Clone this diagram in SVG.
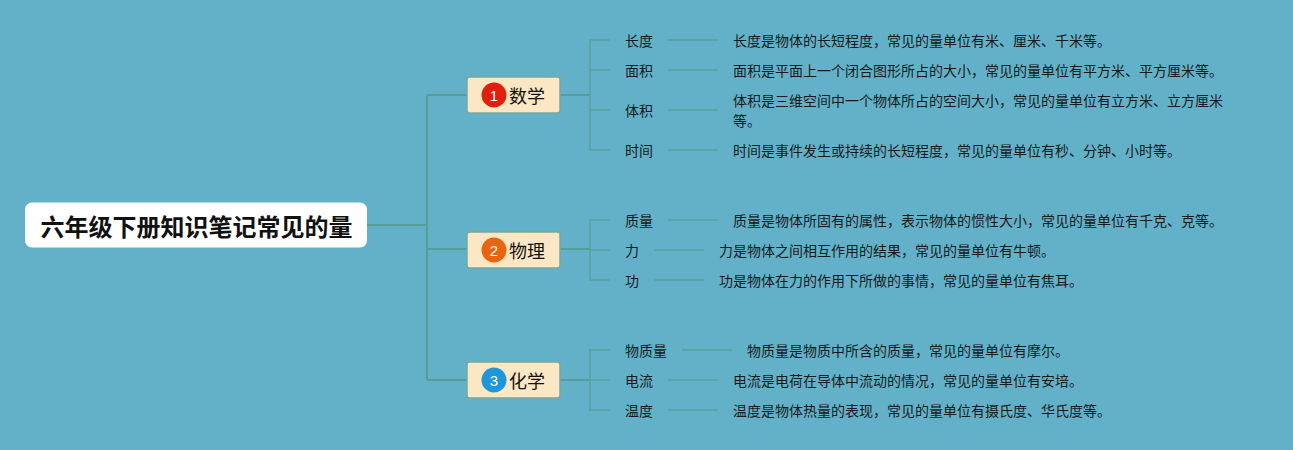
<svg xmlns="http://www.w3.org/2000/svg" width="1293" height="450" viewBox="0 0 1293 450">
<style>
text{font-family:"Noto Sans CJK SC","Noto Sans CJK JP",sans-serif}
.c{fill:none;stroke:#559d95;stroke-width:2}
.l{fill:none;stroke:#5aa39e;stroke-width:2;opacity:.8}
.box{fill:#fbe7c3;stroke:#7aa89a;stroke-width:1.5}
.bt{font-size:18px;fill:#111}
.nt{font-size:15px;fill:#fff;text-anchor:middle;font-family:"Liberation Sans",sans-serif}
.s{font-size:14px;fill:#1a1a1a}
.d{font-size:14px;fill:#1a1a1a}
</style>
<rect width="1293" height="450" fill="#62b1c8"/>
<g id="connectors">
<path class="c" d="M367 225H427M427 95V380M427 95H467M427 249H467M427 380H467"/>
<path class="c" d="M560 95H590M560 249H590M560 380H590"/>
<path class="l" d="M610 40H590V150H610M590 70H610M590 110H610"/>
<path class="l" d="M610 220H590V280H610M590 250H610"/>
<path class="l" d="M610 350H590V410H610M590 380H610"/>
<path class="l" d="M668 40H718M668 70H718M668 110H718M668 150H718M668 220H718M654 250H704M654 280H704M682 350H732M668 380H718M668 410H718"/>
</g>
<g id="root"><rect x="25" y="202.500" width="342" height="45" rx="7" fill="#fff"/><text x="196.500" y="236" font-size="24" font-weight="700" text-anchor="middle" fill="#111">六年级下册知识笔记常见的量</text></g>
<g id="b1"><rect class="box" x="467" y="77" width="93" height="36" rx="2.500"/><circle cx="494" cy="95" r="12.500" fill="#e0200c"/><text class="nt" x="494" y="100.500">1</text><text class="bt" x="509" y="102.500">数学</text></g>
<g id="b2"><rect class="box" x="467" y="232" width="93" height="36" rx="2.500"/><circle cx="494" cy="250" r="12.500" fill="#e8640f"/><text class="nt" x="494" y="255.500">2</text><text class="bt" x="509" y="257.500">物理</text></g>
<g id="b3"><rect class="box" x="467" y="362" width="93" height="36" rx="2.500"/><circle cx="494" cy="380" r="12.500" fill="#1f95dc"/><text class="nt" x="494" y="385.500">3</text><text class="bt" x="509" y="387.500">化学</text></g>
<g id="m1"><text class="s" x="625" y="46">长度</text><text class="d" x="733" y="46">长度是物体的长短程度，常见的量单位有米、厘米、千米等。</text></g>
<g id="m2"><text class="s" x="625" y="76">面积</text><text class="d" x="733" y="76">面积是平面上一个闭合图形所占的大小，常见的量单位有平方米、平方厘米等。</text></g>
<g id="m3"><text class="s" x="625" y="116">体积</text><text class="d" x="733" y="106">体积是三维空间中一个物体所占的空间大小，常见的量单位有立方米、立方厘米</text><text class="d" x="733" y="126">等。</text></g>
<g id="m4"><text class="s" x="625" y="156">时间</text><text class="d" x="733" y="156">时间是事件发生或持续的长短程度，常见的量单位有秒、分钟、小时等。</text></g>
<g id="p1"><text class="s" x="625" y="226">质量</text><text class="d" x="733" y="226">质量是物体所固有的属性，表示物体的惯性大小，常见的量单位有千克、克等。</text></g>
<g id="p2"><text class="s" x="625" y="256">力</text><text class="d" x="719" y="256">力是物体之间相互作用的结果，常见的量单位有牛顿。</text></g>
<g id="p3"><text class="s" x="625" y="286">功</text><text class="d" x="719" y="286">功是物体在力的作用下所做的事情，常见的量单位有焦耳。</text></g>
<g id="c1"><text class="s" x="625" y="356">物质量</text><text class="d" x="747" y="356">物质量是物质中所含的质量，常见的量单位有摩尔。</text></g>
<g id="c2"><text class="s" x="625" y="386">电流</text><text class="d" x="733" y="386">电流是电荷在导体中流动的情况，常见的量单位有安培。</text></g>
<g id="c3"><text class="s" x="625" y="416">温度</text><text class="d" x="733" y="416">温度是物体热量的表现，常见的量单位有摄氏度、华氏度等。</text></g>
</svg>
